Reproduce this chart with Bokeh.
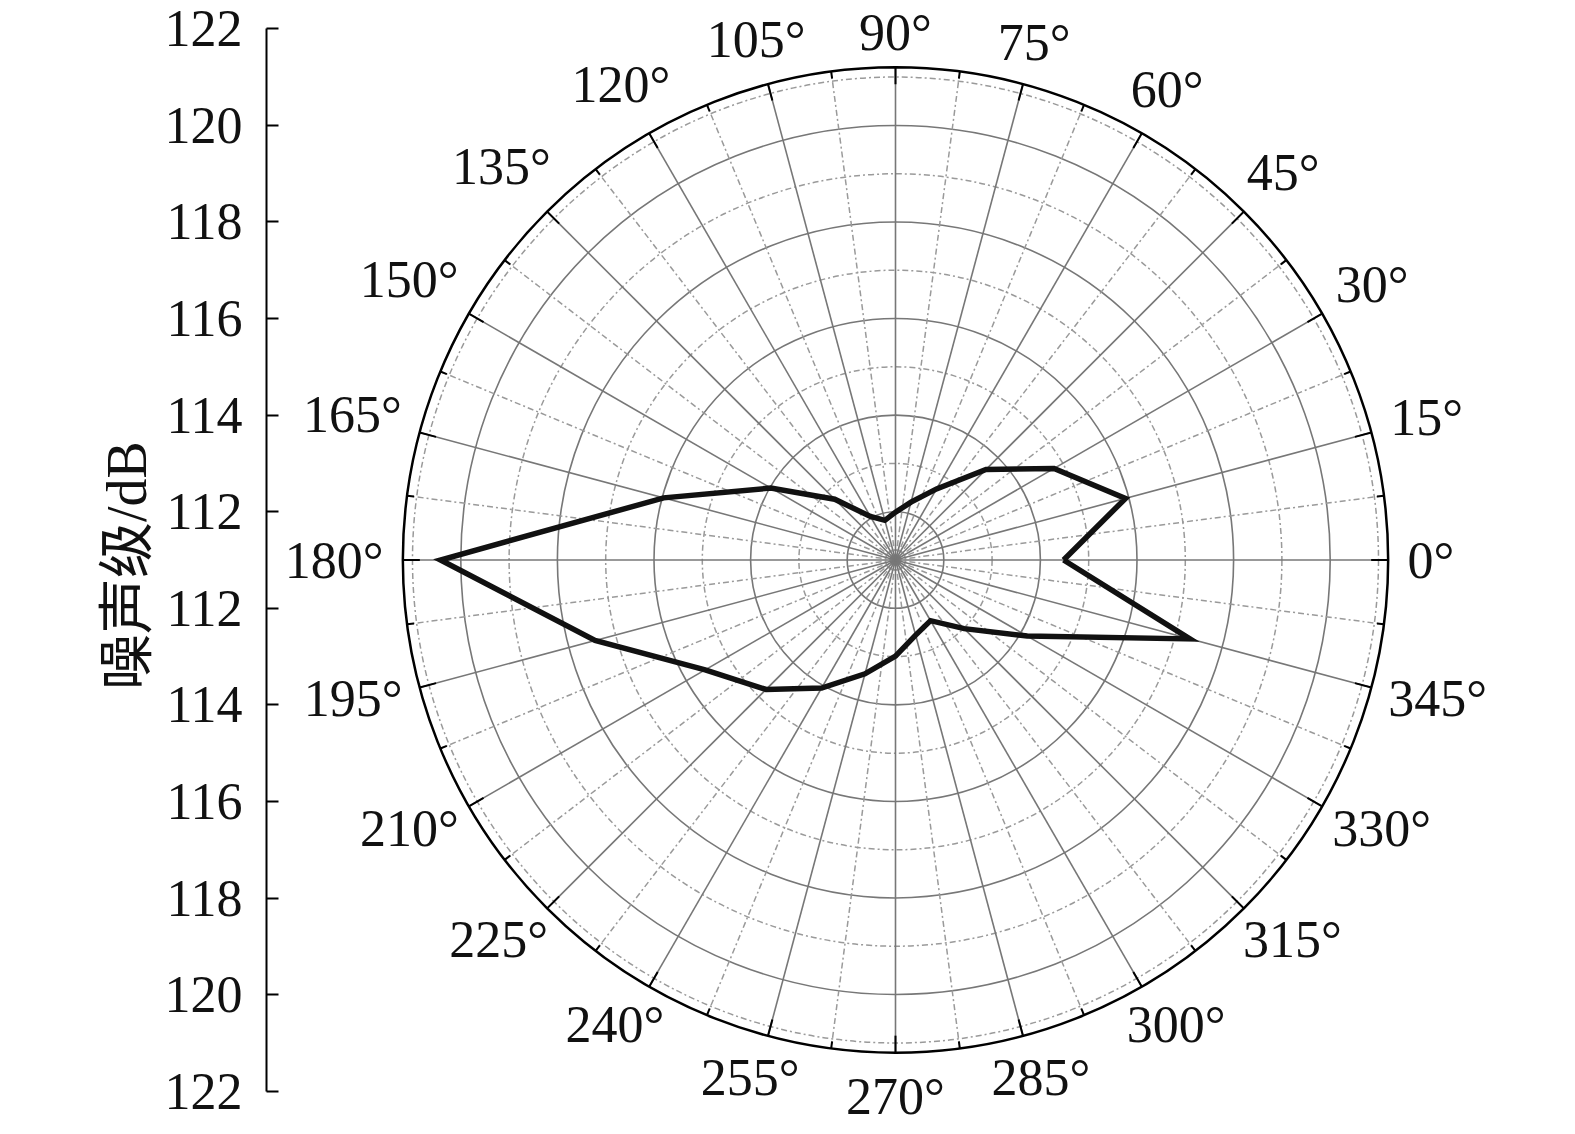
import numpy as np
from bokeh.plotting import figure
from bokeh.models import LinearAxis, FixedTicker, Range1d
from bokeh.embed import file_html
from bokeh.resources import INLINE
from bokeh.core.properties import value

# ---------------- data ----------------
angles_deg = [0, 15, 30, 45, 60, 75, 90, 105, 120, 135, 150, 165,
              180, 195, 210, 225, 240, 255, 270, 285, 300, 315, 330, 345]
noise_db = [114.48, 115.93, 114.79, 113.65, 112.70, 112.24, 111.99, 111.85,
            112.04, 112.78, 113.98, 115.97, 120.42, 117.44, 115.55, 114.79,
            114.06, 113.44, 112.99, 112.61, 112.45, 113.01, 114.15, 117.31]

center_db = 111.0          # level at the pole
rim_db = 121.2             # level of the outer circle
ring_major_db = [112, 114, 116, 118, 120]
ring_minor_db = [113, 115, 117, 119, 121]
axis_tick_db = [122, 120, 118, 116, 114, 112]
label_angles = list(range(0, 360, 15))
angle_labels = ["%d°" % a for a in label_angles]
axis_title = "噪声级/dB"

# ---------------- layout ----------------
W, H = 1570, 1130
BL = 266
PX = 48.3
cx_s, cy_s = 895.0, 559.5
x0 = -(cx_s - BL) / PX
x1 = (W - cx_s) / PX
y1 = cy_s / PX
y0 = -(H - cy_s) / PX

p = figure(width=W, height=H, output_backend="svg", toolbar_location=None,
           x_range=Range1d(x0, x1), y_range=Range1d(y0, y1),
           x_axis_location=None, y_axis_location=None,
           min_border=0, min_border_left=BL, background_fill_color="white",
           border_fill_color="white")
p.outline_line_color = None
p.grid.visible = False

SERIF = "Liberation Serif"
R = rim_db - center_db

# grid circles
for d in ring_minor_db:
    p.circle(x=0, y=0, radius=d - center_db, fill_color=None,
             line_color="#9a9a9a", line_width=1.5, line_dash="6 3 2 3")
for d in ring_major_db:
    p.circle(x=0, y=0, radius=d - center_db, fill_color=None,
             line_color="#777777", line_width=1.6)

# spokes
maj = np.deg2rad(np.arange(0, 360, 15))
mnr = np.deg2rad(np.arange(7.5, 360, 15))
p.segment(x0=0, y0=0, x1=list(R * np.cos(mnr)), y1=list(R * np.sin(mnr)),
          line_color="#9a9a9a", line_width=1.5, line_dash="6 3 2 3")
p.segment(x0=0, y0=0, x1=list(R * np.cos(maj)), y1=list(R * np.sin(maj)),
          line_color="#777777", line_width=1.6)

# rim ticks
tl_maj = 17 / PX
tl_min = 7 / PX
p.segment(x0=list((R - tl_maj) * np.cos(maj)), y0=list((R - tl_maj) * np.sin(maj)),
          x1=list(R * np.cos(maj)), y1=list(R * np.sin(maj)),
          line_color="black", line_width=2)
p.segment(x0=list((R - tl_min) * np.cos(mnr)), y0=list((R - tl_min) * np.sin(mnr)),
          x1=list(R * np.cos(mnr)), y1=list(R * np.sin(mnr)),
          line_color="black", line_width=2)

# data curve
th = np.deg2rad(np.array(angles_deg + [angles_deg[0]], dtype=float))
rr = np.array(noise_db + [noise_db[0]]) - center_db
p.line(x=list(rr * np.cos(th)), y=list(rr * np.sin(th)),
       line_color="#111111", line_width=5.5, line_join="miter")

# outer circle
p.circle(x=0, y=0, radius=R, fill_color=None, line_color="black", line_width=2.5)

# angle labels: text box kept at a fixed gap outside the rim
FS = 52
GAP_R = 510.0
lx, ly = [], []
for a, t in zip(label_angles, angle_labels):
    th_a = np.deg2rad(a)
    c, s = np.cos(th_a), np.sin(th_a)
    w = (len(t) - 1) * 0.5 * FS + 0.4 * FS
    if s > 1e-9:
        hw, hh = w / 2 * np.sign(c) if abs(c) > 1e-9 else 0.0, 18.0
        # nearest corner of the box at distance GAP_R from the pole
        bx, by = abs(hw) if abs(c) > 1e-9 else 0.0, hh
        A = 1.0
        B = -2 * (abs(c) * bx + s * by)
        C = bx * bx + by * by - GAP_R ** 2
        d = (-B + np.sqrt(B * B - 4 * A * C)) / 2
        lx.append(d * c / PX)
        ly.append(d * s / PX)
    else:
        lx.append((512 + w / 2) * c / PX)
        ly.append(536 * s / PX)
p.text(x=lx, y=ly, text=angle_labels,
       text_font=value(SERIF), text_font_size="%dpx" % FS, text_color="#111111",
       text_align="center", text_baseline="middle")

# left axis
ticks = [int(d - center_db) for d in axis_tick_db] + [-int(d - center_db) for d in reversed(axis_tick_db)]
labels = {}
for d in axis_tick_db:
    labels[int(d - center_db)] = str(d)
    labels[-int(d - center_db)] = str(d)
yaxis = LinearAxis(bounds=(-11, 11), ticker=FixedTicker(ticks=ticks),
                   major_label_overrides=labels,
                   axis_line_color="black", axis_line_width=2,
                   major_tick_in=12, major_tick_out=0,
                   major_tick_line_color="black", major_tick_line_width=2,
                   minor_tick_line_color=None,
                   major_label_standoff=24,
                   major_label_text_font=SERIF,
                   major_label_text_font_size="52px",
                   major_label_text_color="#111111",
                   axis_label=axis_title,
                   axis_label_text_font="Liberation Serif, Noto Sans CJK SC",
                   axis_label_text_font_size="56px",
                   axis_label_text_font_style="normal",
                   axis_label_text_color="#111111",
                   axis_label_standoff=4)
p.add_layout(yaxis, "left")

open("out.html", "w").write(file_html(p, INLINE))
